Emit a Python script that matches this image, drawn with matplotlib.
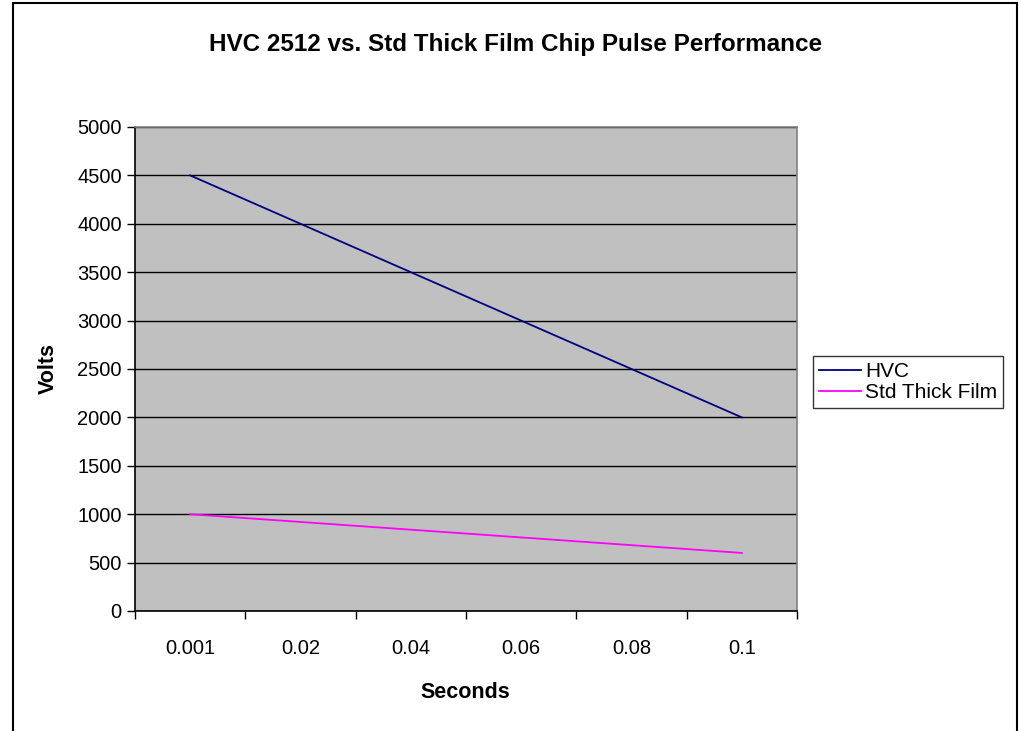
import matplotlib.pyplot as plt
import numpy as np
from matplotlib.patches import Rectangle

plt.rcParams['font.family'] = ['Liberation Sans', 'DejaVu Sans']

seconds = ['0.001', '0.02', '0.04', '0.06', '0.08', '0.1']
hvc = [4500, 4000, 3500, 3000, 2500, 2000]
std_thick = [1000, 920, 840, 760, 680, 600]

W, H = 1021, 731
fig = plt.figure(figsize=(W / 100, H / 100), dpi=100)

# plot area in pixels: left 135, right 797, top 127, bottom 611
ax = fig.add_axes([135 / W, 1 - 611 / H, (797 - 135) / W, (611 - 127) / H])
ax.set_facecolor('#C0C0C0')

x = np.arange(len(seconds))
ax.plot(x, hvc, color='#000080', lw=1.3, label='HVC')
ax.plot(x, std_thick, color='#FF00FF', lw=1.3, label='Std Thick Film')

ax.set_xlim(-0.5, len(seconds) - 0.5)
ax.set_ylim(0, 5000)
ax.set_yticks(np.arange(0, 5001, 500))
ax.yaxis.grid(True, color='black', lw=1)
ax.set_axisbelow(True)

# category boundaries as tick marks, labels in the middle
ax.set_xticks(np.arange(-0.5, len(seconds), 1.0))
ax.set_xticklabels([])
ax.set_xticks(x, minor=True)
ax.set_xticklabels(seconds, minor=True)
ax.tick_params(axis='x', which='major', direction='out', length=6, width=1, color='black')
ax.tick_params(axis='x', which='minor', length=0, pad=20, labelsize=14.5)
ax.tick_params(axis='y', direction='out', length=6, width=1, color='black', pad=3.5, labelsize=14.5)

for s in ['top', 'right']:
    ax.spines[s].set_color('#808080')
    ax.spines[s].set_linewidth(1.2)
for s in ['left', 'bottom']:
    ax.spines[s].set_color('black')
    ax.spines[s].set_linewidth(1.2)

fig.text(465 / W, 1 - 692 / H, 'Seconds', ha='center', va='center',
         fontsize=15.5, fontweight='bold')
fig.text(48 / W, 1 - 368 / H, 'Volts', ha='center', va='center',
         rotation=90, fontsize=15.5, fontweight='bold')

fig.text(516 / W, 1 - 45 / H,
         'HVC 2512 vs. Std Thick Film Chip Pulse Performance',
         ha='center', va='center', fontsize=17.5, fontweight='bold')

leg = ax.legend(loc='center left', bbox_to_anchor=(813 / W, 1 - 382 / H),
                bbox_transform=fig.transFigure, frameon=True, fancybox=False,
                edgecolor='black', fontsize=15, handlelength=2.0,
                handletextpad=0.2, borderpad=0.3, labelspacing=0.1,
                borderaxespad=0)
leg.get_frame().set_linewidth(1)

# outer chart border
fig.patches.append(Rectangle((13 / W, -0.01), (1017 - 13) / W, 1.01 - 3 / H,
                             transform=fig.transFigure, fill=False,
                             edgecolor='black', lw=1.5))

fig.savefig('out.png', dpi=100)
